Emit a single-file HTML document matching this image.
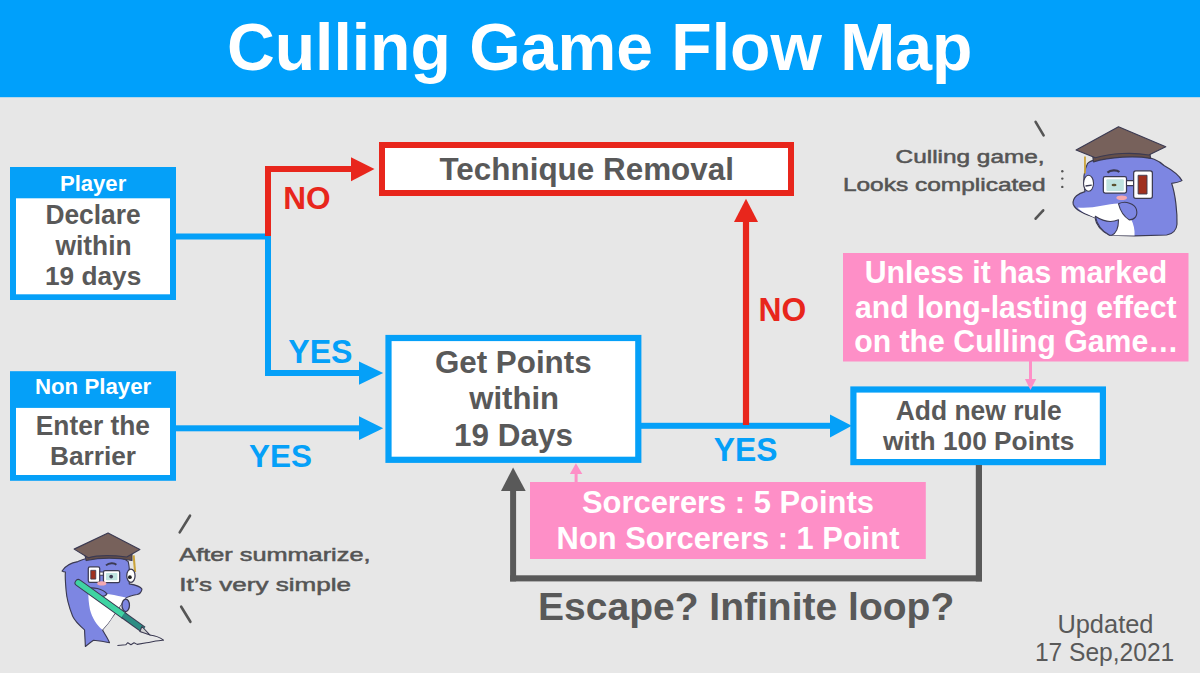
<!DOCTYPE html>
<html><head><meta charset="utf-8"><title>Culling Game Flow Map</title>
<style>
html,body{margin:0;padding:0;background:#e7e7e7;}
body{width:1200px;height:673px;overflow:hidden;position:relative;font-family:"Liberation Sans",sans-serif;}
svg{position:absolute;left:0;top:0;}
text{font-family:"Liberation Sans",sans-serif;}
</style></head><body>
<svg width="1200" height="673" viewBox="0 0 1200 673">
<rect x="0" y="0" width="1200" height="673" fill="#e7e7e7"/>
<rect x="0" y="0" width="1200" height="97.2" fill="#00a0fb"/>

<!-- boxes -->
<rect x="10" y="167" width="166" height="133" fill="#05a0f8"/>
<rect x="16" y="198.3" width="154" height="96" fill="#ffffff"/>
<rect x="10" y="371.2" width="166" height="109.6" fill="#05a0f8"/>
<rect x="16" y="407.9" width="154" height="67.1" fill="#ffffff"/>
<rect x="382" y="145" width="409" height="48" fill="#ffffff" stroke="#e8261c" stroke-width="6"/>
<rect x="388.5" y="338" width="249.8" height="121.8" fill="#ffffff" stroke="#05a0f8" stroke-width="6.2"/>
<rect x="853.4" y="389.5" width="249.5" height="72.6" fill="#ffffff" stroke="#05a0f8" stroke-width="6.2"/>
<rect x="843" y="253" width="345.5" height="108.5" fill="#fe8fc7"/>
<rect x="530" y="482" width="395.8" height="77" fill="#fe8fc7"/>

<!-- blue connectors -->
<g fill="#05a0f8">
  <rect x="176" y="233.5" width="95" height="6"/>
  <rect x="265" y="233.5" width="6" height="142.5"/>
  <rect x="265" y="370" width="96" height="6"/>
  <polygon points="359,361.6 383.2,373 359,384.7"/>
  <rect x="176" y="425.3" width="185" height="6"/>
  <polygon points="359,416.3 383.2,428.3 359,440.1"/>
  <rect x="641" y="422.8" width="191" height="6"/>
  <polygon points="830,414.4 851.8,425.8 830,437.5"/>
</g>
<!-- red connectors -->
<g fill="#e8261c">
  <rect x="265" y="166" width="6" height="70"/>
  <rect x="265" y="166" width="88" height="6"/>
  <polygon points="351,157.3 374.5,169 351,181.2"/>
  <rect x="742.9" y="218" width="6.2" height="207"/>
  <polygon points="734,222 746,198.7 758,222"/>
</g>
<!-- gray loop -->
<g fill="#595959">
  <rect x="975.8" y="465" width="6.2" height="116.4"/>
  <rect x="510.1" y="575.3" width="471.9" height="6.1"/>
  <rect x="510.1" y="488" width="6" height="93.4"/>
  <polygon points="501,491.1 513.1,467.4 525.7,491.1"/>
</g>
<!-- pink small arrows -->
<g fill="#fe8fc7">
  <rect x="574.6" y="472" width="3" height="10.5"/>
  <polygon points="569.9,474 575.9,463.3 582.3,474"/>
  <rect x="1029" y="361" width="3" height="20"/>
  <polygon points="1024.9,379 1030.5,390 1036.2,379"/>
</g>

<text transform="matrix(1 0 0 1.02 226.9 70.3)" font-size="66.12" font-weight="700" fill="#ffffff">Culling Game Flow Map</text>
<text transform="matrix(1 0 0 1.015 59.9 190.5)" font-size="22.11" font-weight="700" fill="#ffffff">Player</text>
<text transform="matrix(1 0 0 1.015 34.9 394.4)" font-size="22.28" font-weight="700" fill="#ffffff">Non Player</text>
<text transform="matrix(1 0 0 1.015 45.4 224.1)" font-size="26.36" font-weight="700" fill="#595959">Declare</text>
<text transform="matrix(1 0 0 1.015 55.5 254.6)" font-size="26.38" font-weight="700" fill="#595959">within</text>
<text transform="matrix(1 0 0 1.015 45.0 284.9)" font-size="26.24" font-weight="700" fill="#595959">19 days</text>
<text transform="matrix(1 0 0 1.015 35.8 435.1)" font-size="26.37" font-weight="700" fill="#595959">Enter the</text>
<text transform="matrix(1 0 0 1.015 50.1 465.3)" font-size="26.22" font-weight="700" fill="#595959">Barrier</text>
<text transform="matrix(1 0 0 1.015 439.5 179.7)" font-size="31.44" font-weight="700" fill="#595959">Technique Removal</text>
<text transform="matrix(1 0 0 1.015 434.9 373)" font-size="31.36" font-weight="700" fill="#595959">Get Points</text>
<text transform="matrix(1 0 0 1.015 469.2 409.2)" font-size="31.13" font-weight="700" fill="#595959">within</text>
<text transform="matrix(1 0 0 1.015 454.0 446.1)" font-size="31.49" font-weight="700" fill="#595959">19 Days</text>
<text transform="matrix(1 0 0 1.015 895.7 419.8)" font-size="26.45" font-weight="700" fill="#595959">Add new rule</text>
<text transform="matrix(1 0 0 1.015 883.1 449.9)" font-size="26.28" font-weight="700" fill="#595959">with 100 Points</text>
<text transform="matrix(1 0 0 1.015 538.0 620)" font-size="39.03" font-weight="700" fill="#595959">Escape? Infinite loop?</text>
<text transform="matrix(1 0 0 1.015 1057.4 632.75)" font-size="25.41" font-weight="400" fill="#595959">Updated</text>
<text transform="matrix(1 0 0 1.015 1034.9 660.9)" font-size="24.58" font-weight="400" fill="#595959">17 Sep,2021</text>
<text transform="matrix(1 0 0 1.015 283.3 208.9)" font-size="31.57" font-weight="700" fill="#e8261c">NO</text>
<text transform="matrix(1 0 0 1.015 758.5 321)" font-size="31.86" font-weight="700" fill="#e8261c">NO</text>
<text transform="matrix(1 0 0 1.015 288.3 362.8)" font-size="32.11" font-weight="700" fill="#05a0f8">YES</text>
<text transform="matrix(1 0 0 1.015 249.1 467)" font-size="31.49" font-weight="700" fill="#05a0f8">YES</text>
<text transform="matrix(1 0 0 1.015 713.7 460.7)" font-size="31.86" font-weight="700" fill="#05a0f8">YES</text>
<text transform="matrix(1 0 0 1.015 864.7 282.8)" font-size="30.26" font-weight="700" fill="#ffffff">Unless it has marked</text>
<text transform="matrix(1 0 0 1.015 855.0 317.5)" font-size="30.17" font-weight="700" fill="#ffffff">and long-lasting effect</text>
<text transform="matrix(1 0 0 1.015 854.2 352)" font-size="30.25" font-weight="700" fill="#ffffff">on the Culling Game…</text>
<text transform="matrix(1 0 0 1.015 582.0 513.3)" font-size="30.9" font-weight="700" fill="#ffffff">Sorcerers : 5 Points</text>
<text transform="matrix(1 0 0 1.015 556.6 548.6)" font-size="30.86" font-weight="700" fill="#ffffff">Non Sorcerers : 1 Point</text>

<g fill="#555555" stroke="#555555" stroke-width="0.5" font-family="Liberation Sans" font-size="18">
<text x="895.6" y="163.3" textLength="149" lengthAdjust="spacingAndGlyphs">Culling game,</text>
<text x="842.9" y="191" textLength="202.7" lengthAdjust="spacingAndGlyphs">Looks complicated</text>
<text x="179.3" y="560.7" textLength="191.2" lengthAdjust="spacingAndGlyphs">After summarize,</text>
<text x="179.3" y="591.3" textLength="171.7" lengthAdjust="spacingAndGlyphs">It’s very simple</text>
</g>
<g stroke="#555555" stroke-width="2.6" stroke-linecap="round" fill="none">
<line x1="1035.6" y1="121.8" x2="1043.6" y2="135.3"/>
<line x1="1043.2" y1="210.3" x2="1035.6" y2="218.7"/>
<line x1="190" y1="515.7" x2="179.7" y2="532.4"/>
<line x1="181.2" y1="606.7" x2="190.4" y2="621.8"/>
</g>
<g fill="#555555">
<circle cx="1062.3" cy="171.3" r="1.2"/><circle cx="1062.3" cy="178.6" r="1.2"/><circle cx="1062.3" cy="186.9" r="1.2"/>
</g>


<g transform="translate(1065,120) scale(0.17832)" stroke="#3b3a52" stroke-width="6.5" stroke-linejoin="round">
  <!-- body -->
  <path fill="#7d86e2" d="M127,243 C170,205 400,185 500,220 C530,232 545,245 555,255 C600,280 640,310 656,340 C640,350 615,353 598,355 C620,420 630,520 628,585 C626,615 605,640 570,645 L390,650 L250,646 C205,625 175,590 168,548 C120,528 62,512 46,472 C40,432 80,410 112,402 C100,342 105,285 127,243 Z"/>
  <!-- belly -->
  <path fill="#ffffff" stroke="none" d="M70,490 C150,500 230,470 300,468 C360,515 395,585 390,648 L250,646 C210,625 180,590 172,548 C130,530 90,515 70,490 Z"/>
  <path fill="#7d86e2" d="M170,540 C200,560 250,580 300,560 C300,600 290,635 262,646 L250,646 C210,625 180,590 170,540 Z" stroke-width="6"/>
  <path fill="#7d86e2" d="M300,470 C340,450 390,470 400,500 C410,540 390,560 360,560 C330,540 310,510 300,470 Z" stroke-width="6"/>
  <!-- cap skull -->
  <path fill="#654f49" d="M150,160 L470,150 L480,215 C400,200 250,205 160,235 Z"/>
  <!-- cap board -->
  <path fill="#77615b" d="M300,38 L565,150 L470,196 C380,180 260,185 170,212 L62,168 Z"/>
  <!-- tassel -->
  <path fill="none" stroke="#caa33a" stroke-width="10" d="M112,205 L112,300"/>
  <!-- eye -->
  <ellipse cx="132" cy="355" rx="28" ry="45" fill="#ffffff" stroke-width="6"/>
  <path d="M115,370 L150,365" stroke-width="8"/>
  <!-- eyebrow -->
  <path d="M238,295 C255,280 290,278 305,292" fill="none" stroke-width="12"/>
  <!-- glasses -->
  <rect x="215" y="318" width="130" height="92" rx="10" fill="#ffffff" stroke-width="7"/>
  <rect x="232" y="332" width="98" height="66" rx="6" fill="#bfe3e0" stroke="none"/>
  <ellipse cx="275" cy="365" rx="14" ry="7" fill="#5a5230" stroke="none"/>
  <rect x="345" y="340" width="40" height="28" fill="#ffffff" stroke-width="6"/>
  <rect x="385" y="285" width="105" height="155" rx="12" fill="#ffffff" stroke-width="7"/>
  <rect x="410" y="310" width="50" height="105" fill="#a0301e" stroke-width="5"/>
  <!-- blush -->
  <ellipse cx="318" cy="436" rx="30" ry="13" fill="#f4a8b0" stroke="none"/>
</g>


<g transform="translate(55,520) scale(0.208)" stroke="#3b3a52" stroke-width="5.5" stroke-linejoin="round">
  <!-- body -->
  <path fill="#7d86e2" d="M150,185 C200,170 320,168 352,200 C362,240 358,280 357,307 C385,312 410,318 418,332 C415,350 405,356 395,358 C370,362 350,368 335,378 C315,410 295,440 278,463 C262,490 245,510 228,528 C240,550 255,570 262,590 C235,584 205,580 185,578 C170,588 158,598 146,608 C145,580 143,555 142,528 C115,505 95,485 85,463 C68,420 56,380 53,335 C50,300 48,270 50,250 C45,250 38,248 34,245 C50,220 80,205 110,200 C125,193 138,188 150,185 Z"/>
  <!-- belly -->
  <path fill="#ffffff" stroke="none" d="M160,345 C230,352 300,362 340,373 C315,410 295,440 278,463 C262,490 245,510 228,528 C200,505 178,470 168,430 C162,400 160,370 160,345 Z"/>
  <!-- cap skull -->
  <path fill="#654f49" d="M140,150 L370,150 L370,195 C300,180 220,180 150,195 Z"/>
  <!-- cap board -->
  <path fill="#77615b" d="M255,62 L408,142 L345,178 C280,170 200,170 160,182 L92,140 Z"/>
  <!-- tassel -->
  <path fill="none" stroke="#caa33a" stroke-width="10" d="M378,170 L385,250"/>
  <!-- glasses -->
  <rect x="160" y="225" width="55" height="75" rx="8" fill="#ffffff" stroke-width="6"/>
  <rect x="172" y="242" width="24" height="42" fill="#a0301e" stroke-width="4"/>
  <rect x="215" y="250" width="18" height="16" fill="#ffffff" stroke-width="5"/>
  <rect x="233" y="243" width="78" height="58" rx="8" fill="#ffffff" stroke-width="6"/>
  <rect x="245" y="255" width="55" height="35" rx="4" fill="#bfe3e0" stroke="none"/>
  <circle cx="270" cy="272" r="9" fill="#3b3a52" stroke="none"/>
  <!-- eye -->
  <ellipse cx="365" cy="268" rx="20" ry="32" fill="#ffffff" stroke-width="6"/>
  <circle cx="360" cy="275" r="9" fill="#222" stroke="none"/>
  <!-- eyebrow -->
  <path d="M245,218 C260,205 285,205 295,215" fill="none" stroke-width="9"/>
  <!-- blush -->
  <ellipse cx="225" cy="305" rx="22" ry="10" fill="#f4a8b0" stroke="none"/>
  <!-- left flipper -->
  <path fill="#7d86e2" d="M150,330 C180,320 230,330 250,355 C240,375 210,370 185,365 Z" stroke-width="6"/>
  <!-- pen -->
  <path d="M112,302 L328,457" stroke="#3b3a52" stroke-width="36" stroke-linecap="round"/>
  <path d="M112,302 L328,457" stroke="#3fd3a2" stroke-width="26" stroke-linecap="round"/>
  <path d="M328,457 L425,527" stroke="#3b3a52" stroke-width="34"/>
  <path d="M328,457 L425,527" stroke="#2c8c83" stroke-width="24"/>
  <path d="M418,512 L457,553 L408,536 Z" fill="#d0d0d0" stroke-width="5"/>
  <!-- hand -->
  <ellipse cx="340" cy="410" rx="18" ry="30" fill="#7d86e2" stroke-width="6"/>
  <!-- scribble -->
  <path d="M300,603 L340,600 L350,590 L365,600 L380,590 L395,598 L440,590 C470,585 510,575 522,578 C500,560 470,555 455,553" fill="none" stroke-width="5"/>
</g>

</svg>
</body></html>
